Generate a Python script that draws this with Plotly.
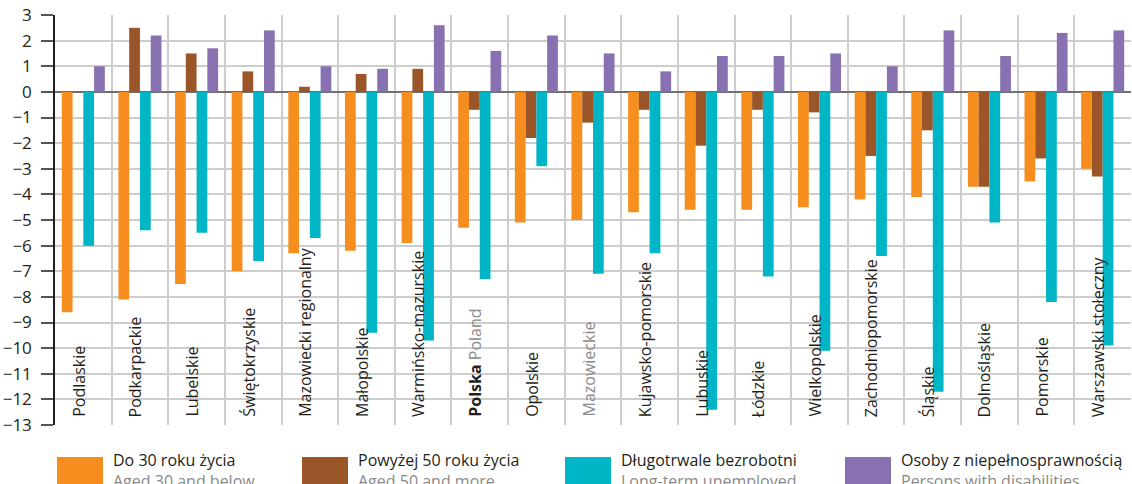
import plotly.graph_objects as go

# regions (left to right as in the chart)
regions = ["Podlaskie", "Podkarpackie", "Lubelskie", "Świętokrzyskie",
           "Mazowiecki regionalny", "Małopolskie", "Warmińsko-mazurskie",
           "Polska", "Opolskie", "Mazowieckie", "Kujawsko-pomorskie",
           "Lubuskie", "Łódzkie", "Wielkopolskie", "Zachodniopomorskie",
           "Śląskie", "Dolnośląskie", "Pomorskie", "Warszawski stołeczny"]

# change in percentage points
under_30 = [-8.6, -8.1, -7.5, -7.0, -6.3, -6.2, -5.9, -5.3, -5.1, -5.0,
            -4.7, -4.6, -4.6, -4.5, -4.2, -4.1, -3.7, -3.5, -3.0]
over_50 = [0.0, 2.5, 1.5, 0.8, 0.2, 0.7, 0.9, -0.7, -1.8, -1.2,
           -0.7, -2.1, -0.7, -0.8, -2.5, -1.5, -3.7, -2.6, -3.3]
long_term = [-6.0, -5.4, -5.5, -6.6, -5.7, -9.4, -9.7, -7.3, -2.9, -7.1,
             -6.3, -12.4, -7.2, -10.1, -6.4, -11.7, -5.1, -8.2, -9.9]
disabled = [1.0, 2.2, 1.7, 2.4, 1.0, 0.9, 2.6, 1.6, 2.2, 1.5,
            0.8, 1.4, 1.4, 1.5, 1.0, 2.4, 1.4, 2.3, 2.4]

series_pl = ["Do 30 roku życia", "Powyżej 50 roku życia",
             "Długotrwale bezrobotni", "Osoby z niepełnosprawnością"]
series_en = ["Aged 30 and below", "Aged 50 and more",
             "Long-term unemployed", "Persons with disabilities"]
colors = ["#F68E1F", "#9A5628", "#00B6C6", "#8871B1"]

y_ticks = list(range(3, -14, -1))

FONT = "Open Sans"
DARK = "#231F20"
GREY = "#8A8A8A"

fig = go.Figure()
for vals, name, col in zip([under_30, over_50, long_term, disabled], series_pl, colors):
    fig.add_trace(go.Bar(x=regions, y=vals, name=name, marker_color=col,
                         marker_line_width=0))

# category labels, rotated, sitting on the bottom of the plot
for r in regions:
    if r == "Polska":
        txt = f"<b>{r}</b> <span style='color:{GREY}'>Poland</span>"
    elif r == "Mazowieckie":
        txt = f"<span style='color:{GREY}'>{r}</span>"
    else:
        txt = r
    fig.add_annotation(x=r, y=-13, text=txt, textangle=-90, showarrow=False,
                       xanchor="center", yanchor="bottom", xshift=-5, yshift=6,
                       font=dict(family=FONT, size=16, color=DARK))

# legend drawn by hand (big swatches, two-language labels)
left, width = 55, 1076
top, height = 15, 410
sw_x = [57, 302, 565, 845]
for i in range(4):
    x0 = (sw_x[i] - left) / width
    x1 = (sw_x[i] + 46 - left) / width
    fig.add_shape(type="rect", xref="paper", yref="paper",
                  x0=x0, x1=x1, y0=(top + height - 457) / height,
                  y1=(top + height - 490) / height,
                  fillcolor=colors[i], line_width=0)
    fig.add_annotation(xref="paper", yref="paper",
                       x=(sw_x[i] + 54 - left) / width,
                       y=(top + height - 447) / height,
                       xanchor="left", yanchor="top", align="left", showarrow=False,
                       text=f"{series_pl[i]}<br><span style='color:{GREY}'>{series_en[i]}</span>",
                       font=dict(family=FONT, size=16, color=DARK))

fig.update_layout(
    width=1132, height=484,
    margin=dict(l=left, r=1132 - left - width, t=top, b=484 - top - height),
    barmode="group", bargap=0.24, bargroupgap=0,
    plot_bgcolor="white", paper_bgcolor="white",
    showlegend=False,
    font=dict(family=FONT, color=DARK),
)
fig.update_xaxes(showticklabels=False, ticks="", tickson="boundaries",
                 showgrid=True, gridcolor="#CDCDCD", gridwidth=1.5,
                 showline=False, zeroline=False, automargin=False)
fig.update_yaxes(range=[-13, 3], tickvals=y_ticks, ticks="outside", ticklen=12,
                 tickcolor="#555555", tickwidth=1.5, ticklabelstandoff=6,
                 tickfont=dict(family=FONT, size=17, color=DARK),
                 showgrid=True, gridcolor="#CDCDCD", gridwidth=1.5,
                 showline=True, linecolor=DARK, linewidth=1.5, automargin=False,
                 zeroline=True, zerolinecolor="#6E6E6E", zerolinewidth=1.5)

# drop the default page margin so the figure sits at the window corner
fig.write_html("out.html", config={"displayModeBar": False},
               post_script="document.body.style.margin='0';")
